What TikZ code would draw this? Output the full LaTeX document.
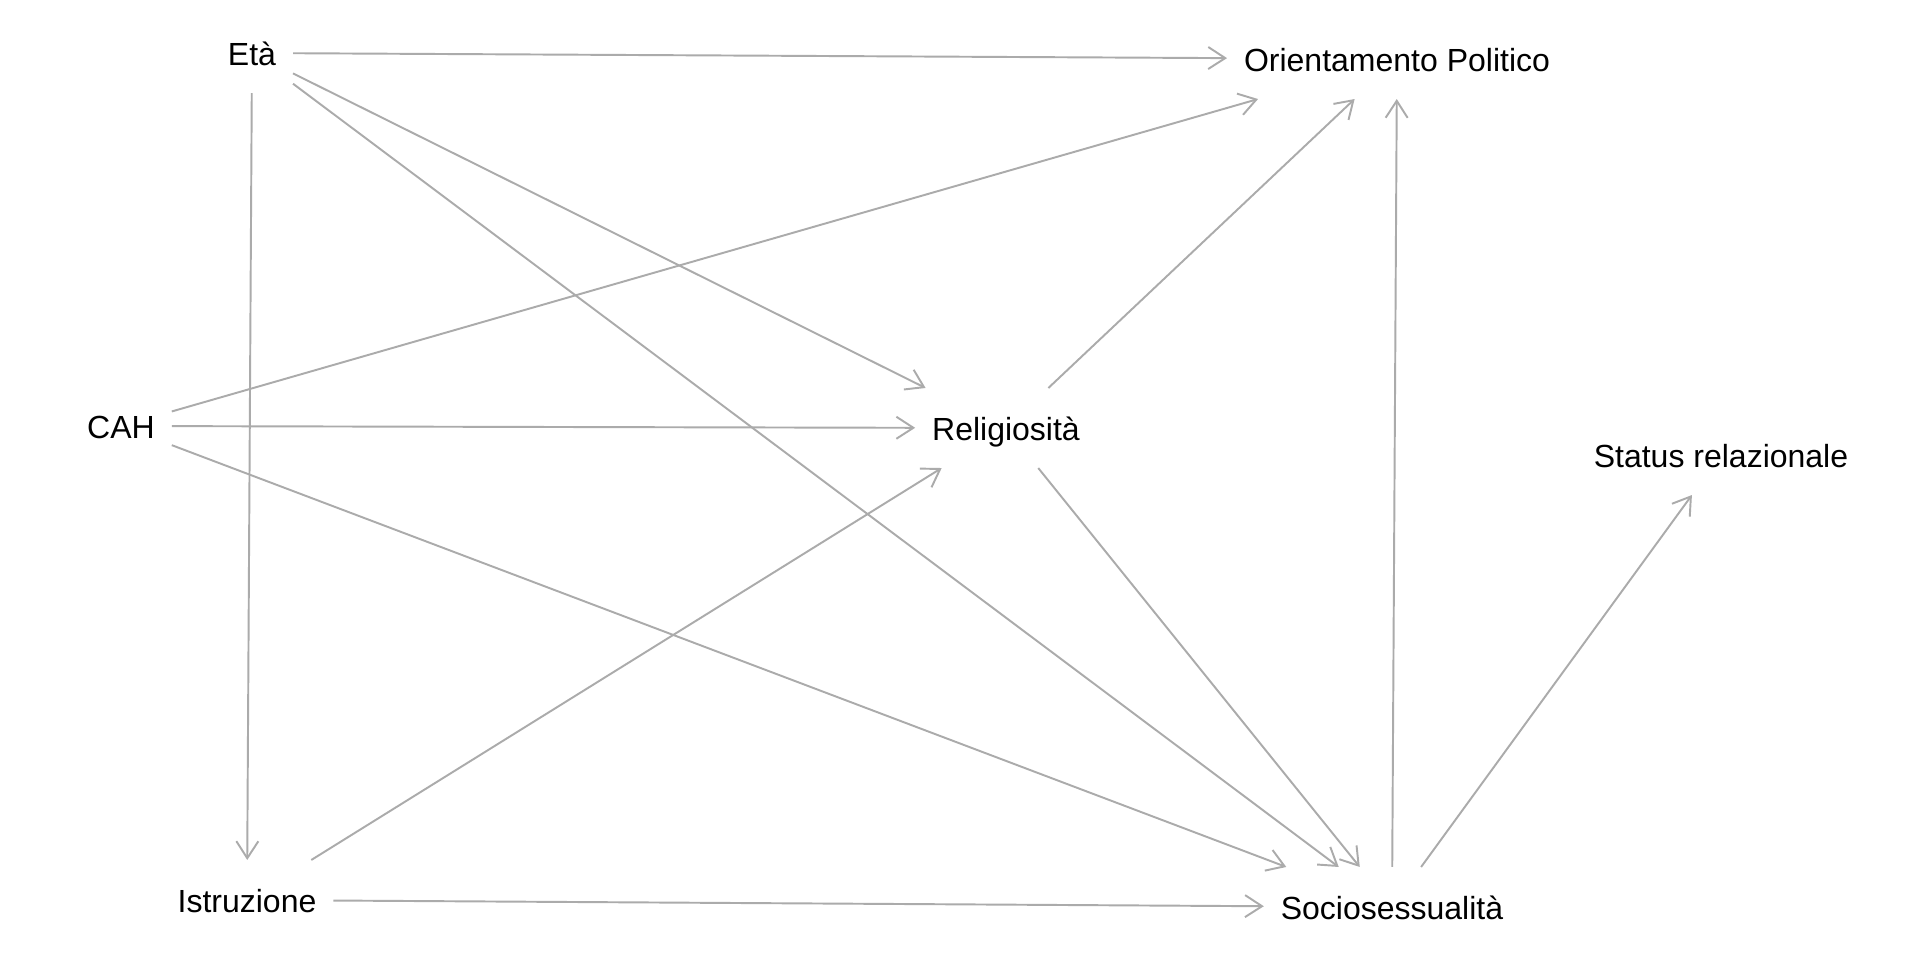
\documentclass[tikz,border=0pt]{standalone}
\usepackage{fontspec}
\setmainfont{Liberation Sans}
\usepackage{xcolor}
\usepackage{tikz}
\usetikzlibrary{arrows.meta}
\definecolor{edgec}{HTML}{ABABAB}
\definecolor{textc}{HTML}{000000}
\tikzset{
  ar/.style={-{Straight Barb[length=1.7mm,width=2.2mm]},line width=0.55pt,edgec},
  var/.style={rectangle,inner xsep=1.7mm,inner ysep=0pt,minimum height=8mm,
    text height=0.72em,text depth=0pt,outer sep=0pt,textc,
    font=\fontsize{9.1pt}{11pt}\selectfont}
}
\begin{document}
\begin{tikzpicture}[x=0.01cm,y=-0.01cm]
\useasboundingbox (0,0) rectangle (1920,960);
% variabili
\node[var] (eta) at (252,53) {Età};
\node[var] (orient) at (1397,59) {Orientamento Politico};
\node[var] (cah) at (121,426) {CAH};
\node[var] (relig) at (1006,428) {Religiosità};
\node[var] (status) at (1721,455) {Status relazionale};
\node[var] (istr) at (247,900) {Istruzione};
\node[var] (socio) at (1392,907) {Sociosessualità};
% archi
\draw[ar] (eta) -- (orient);
\draw[ar] (eta) -- (relig);
\draw[ar] (eta) -- (socio);
\draw[ar] (eta) -- (istr);
\draw[ar] (cah) -- (orient);
\draw[ar] (cah) -- (relig);
\draw[ar] (cah) -- (socio);
\draw[ar] (relig) -- (orient);
\draw[ar] (relig) -- (socio);
\draw[ar] (istr) -- (relig);
\draw[ar] (istr) -- (socio);
\draw[ar] (socio) -- (orient);
\draw[ar] (socio) -- (status);
\end{tikzpicture}
\end{document}
